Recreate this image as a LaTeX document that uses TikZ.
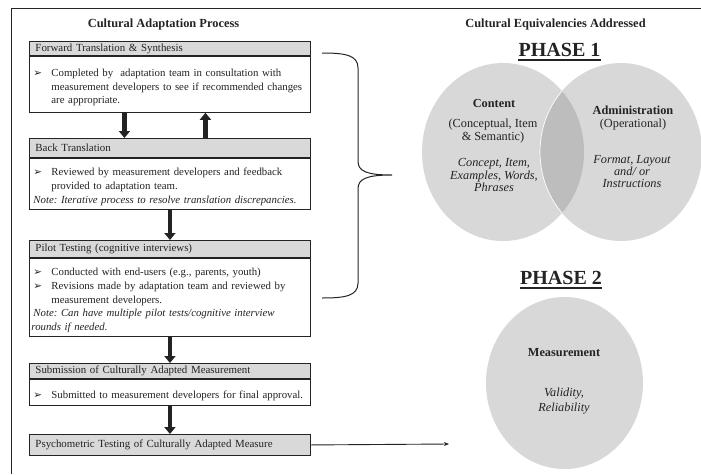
\documentclass[tikz,border=0pt]{standalone}
\usepackage{fontspec}
\setmainfont{Liberation Serif}
\newfontfamily\dingfont{DejaVu Sans}
\usetikzlibrary{arrows.meta,positioning,shapes.geometric}
\hyphenpenalty=10000\relax

\definecolor{hdrgray}{HTML}{D9D9D9}
\definecolor{venngray}{HTML}{D8D8D8}
\definecolor{lapgray}{HTML}{BDBDBD}
\definecolor{inkgray}{HTML}{232323}

% bullet line with hanging indent, and italic note line
\newcommand{\nl}{\hfil\break}
\newcommand{\bitem}[1]{\par\noindent\hangindent=20pt\hangafter=1\makebox[20pt][l]{\hspace*{2pt}{\dingfont\fontsize{10.5}{10}\selectfont ➢}}#1\par}
\newcommand{\noteline}[1]{\par\noindent\hspace*{2pt}\textit{#1}\par}

\tikzset{
  hdr/.style={draw=inkgray, fill=hdrgray, line width=0.9pt, anchor=north west,
    text width=269pt, inner xsep=6pt, inner ysep=0pt, align=left,
    font=\fontsize{10.9}{13.8}\selectfont\frenchspacing, text=inkgray},
  bodybox/.style={draw=inkgray, fill=white, line width=0.9pt, anchor=north,
    text width=277pt, inner xsep=2pt, inner ysep=1pt, align=left,
    font=\fontsize{10.8}{13.8}\selectfont\frenchspacing, text=inkgray},
  flow/.style={-{Triangle[width=11pt,length=7pt]}, line width=4.5pt, draw=inkgray},
  venn/.style={ellipse, fill=venngray, minimum width=162pt, minimum height=178pt, inner sep=0pt},
  title/.style={font=\fontsize{12.4}{14}\selectfont\bfseries, text=inkgray},
  phase/.style={font=\fontsize{20}{22}\selectfont\bfseries, text=inkgray, inner sep=0pt},
  ctext/.style={font=\fontsize{12.3}{12.5}\selectfont, align=center, text=inkgray, inner sep=0pt}
}

\begin{document}
\begin{tikzpicture}[x=1pt, y=-1pt]
\useasboundingbox (0,0) rectangle (701,474);

% frame
\draw[inkgray, line width=0.9pt] (11,474) -- (11,8) -- (701,8);

% left column
\node[title] (ltitle) at (163.5,25) {Cultural Adaptation Process};

\node[hdr, minimum height=14pt] (h1) at (29,41) {Forward Translation \& Synthesis};
\node[bodybox, minimum height=56pt] (b1) at (h1.south) {\bitem{Completed by~ adaptation team in consultation with\nl measurement developers to see if recommended changes\nl are appropriate.}};

\node[hdr, minimum height=19pt] (h2) at (29,138) {Back Translation};
\node[bodybox, minimum height=51pt] (b2) at (h2.south) {\bitem{Reviewed by measurement developers and feedback\nl provided to adaptation team.}\noteline{Note: Iterative process to resolve translation discrepancies.}};

\node[hdr, minimum height=17pt] (h3) at (29,240) {Pilot Testing (cognitive interviews)};
\node[bodybox, minimum height=78pt] (b3) at (h3.south) {\bitem{Conducted with end-users (e.g., parents, youth)}\bitem{Revisions made by adaptation team and reviewed by\nl measurement developers.}\noteline{Note: Can have multiple pilot tests/cognitive interview\nl rounds if needed.}};

\node[hdr, minimum height=15pt] (h4) at (29,363) {Submission of Culturally Adapted Measurement};
\node[bodybox, minimum height=26pt] (b4) at (h4.south) {\bitem{Submitted to measurement developers for final approval.}};

\node[hdr, minimum height=21pt] (h5) at (29,434) {Psychometric Testing of Culturally Adapted Measure};

\draw[flow] ([xshift=-45.5pt]b1.south) -- ([xshift=-45.5pt]h2.north);
\draw[flow] ([xshift=35.5pt]h2.north) -- ([xshift=35.5pt]b1.south);
\draw[flow] (b2.south) -- (h3.north);
\draw[flow] (b3.south) -- (h4.north);
\draw[flow] (b4.south) -- (h5.north);

% brace over phase 1 steps
\coordinate (brtop) at (322,53);
\coordinate (brtip) at (392,175);
\coordinate (brbot) at (322,298);
\draw[inkgray, line width=1pt] (brtop) .. controls (345,53) and (358,55) .. (358,68)
  -- (358,161) .. controls (358,171) and (366,175) .. (brtip)
  .. controls (366,175) and (358,179) .. (358,189)
  -- (358,283) .. controls (358,296) and (345,298) .. (brbot);

% right column
\node[title] (rtitle) at (555.5,25) {Cultural Equivalencies Addressed};
\node[phase] (ph1) at (559.5,50) {PHASE 1};
\draw[inkgray, line width=1.4pt] ([yshift=-3pt]ph1.south west) -- ([yshift=-3pt]ph1.south east);

\node[venn] (content) at (503,152) {};
\node[venn] (admin) at (621,152) {};
\begin{scope}
  \clip (503,152) ellipse (81pt and 89pt);
  \fill[lapgray] (621,152) ellipse (81pt and 89pt);
  \draw[white, line width=0.7pt] (621,152) ellipse (81pt and 89pt);
\end{scope}

\node[ctext, font=\fontsize{12.3}{12.5}\selectfont\bfseries] (contname) at (494,103) {Content};
\node[ctext] (contkind) at (493,131) {(Conceptual, Item\\ \& Semantic)};
\node[ctext, font=\fontsize{12.3}{12.8}\selectfont\itshape] (contitems) at (494,175) {Concept, Item,\\ Examples, Words,\\ Phrases};

\node[ctext] (adminname) at (633,118) {\textbf{Administration}\\ (Operational)};
\node[ctext, font=\fontsize{12.3}{12}\selectfont\itshape] (adminitems) at (632,172) {Format, Layout\\ and/ or\\ Instructions};

\node[phase] (ph2) at (561,278) {PHASE 2};
\draw[inkgray, line width=1.4pt] ([yshift=-3pt]ph2.south west) -- ([yshift=-3pt]ph2.south east);

\node[venn, minimum width=157pt, minimum height=172pt] (meas) at (564.5,383) {};
\node[ctext, font=\fontsize{12.3}{12.5}\selectfont\bfseries] (measname) at (564,353) {Measurement};
\node[ctext, font=\fontsize{12.3}{15}\selectfont\itshape] (measitems) at (564,401.5) {Validity,\\ Reliability};

\coordinate (measin) at (449,444);
\draw[inkgray, line width=0.9pt, -{Stealth[length=5pt,width=4pt]}] (h5.east) -- (measin);
\end{tikzpicture}
\end{document}
